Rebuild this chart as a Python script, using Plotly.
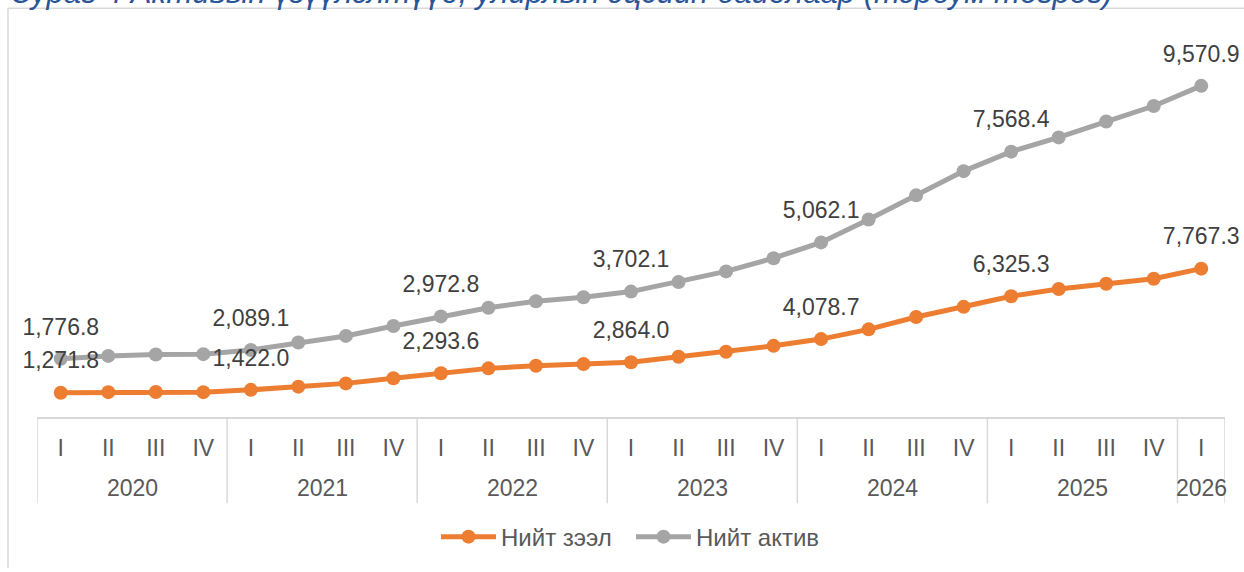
import plotly.graph_objects as go

years = ["2020", "2021", "2022", "2023", "2024", "2025", "2026"]
quarters_per_year = [4, 4, 4, 4, 4, 4, 1]
quarter_names = ["I", "II", "III", "IV"]

loans = [1271.8, 1300.0, 1310.0, 1300.0, 1422.0, 1590.0, 1760.0, 2030.0,
         2293.6, 2546.0, 2687.0, 2770.0, 2864.0, 3154.0, 3414.0, 3726.0,
         4078.7, 4589.0, 5233.0, 5768.0, 6325.3, 6703.0, 6979.0, 7239.0, 7767.3]
assets = [1776.8, 1900.0, 1960.0, 1990.0, 2089.1, 2307.0, 2485.0, 2735.0,
          2972.8, 3170.0, 3377.0, 3502.0, 3702.1, 3913.0, 4209.0, 4588.0,
          5062.1, 5752.0, 6371.0, 7104.0, 7568.4, 7935.0, 8491.0, 9042.0, 9570.9]
labelled = [0, 4, 8, 12, 16, 20, 24]

series_names = ["Нийт зээл", "Нийт актив"]
title_text = "Зураг 4 Активын үзүүлэлтүүд, улирлын эцсийн байдлаар (тэрбум төгрөг)"

colors = ["#ED7D31", "#A5A5A5"]
FONT = "Liberation Sans, Arial, sans-serif"

# category index positions built from the year / quarter structure
quarter_labels = []
for n in quarters_per_year:
    quarter_labels += quarter_names[:n]
idx = list(range(len(quarter_labels)))
bounds = [-0.5]
for n in quarters_per_year:
    bounds.append(bounds[-1] + n)
year_centers = [(bounds[i] + bounds[i + 1]) / 2 for i in range(len(years))]


def labels(vals):
    return [f"{v:,.1f}" if i in labelled else "" for i, v in enumerate(vals)]


fig = go.Figure()
for name, vals, col in zip(series_names, [loans, assets], colors):
    fig.add_trace(go.Scatter(
        x=idx, y=vals, name=name,
        stackgroup="one", fill="none",
        mode="lines+markers",
        line=dict(color=col, width=5),
        marker=dict(color=col, size=14),
        hoverinfo="skip",
    ))

# data labels (placed on the stacked positions)
stacked = [loans, [a + b for a, b in zip(loans, assets)]]
for vals, pos in zip([loans, assets], stacked):
    fig.add_trace(go.Scatter(
        x=idx, y=pos, mode="markers+text", showlegend=False, hoverinfo="skip",
        marker=dict(size=28, opacity=0),
        text=labels(vals), textposition="top center",
        textfont=dict(family=FONT, size=23, color="#404040"),
        cliponaxis=False,
    ))

L, R, T, B = 37, 19, 35, 152
W, H = 1244, 572
pw, ph = W - L - R, H - T - B
AX = H - B  # pixel row of the category axis


def py(p):
    return (AX - p) / ph


def px(p):
    return (p - L) / pw


shapes = [
    dict(type="line", xref="paper", yref="paper", x0=px(8), x1=px(W), y0=py(8), y1=py(8),
         line=dict(color="#D9D9D9", width=1.5)),
    dict(type="line", xref="paper", yref="paper", x0=px(8), x1=px(8), y0=py(8), y1=py(H),
         line=dict(color="#D9D9D9", width=1.5)),
]
for b in bounds:
    shapes.append(dict(type="line", xref="x", yref="paper", x0=b, x1=b, y0=0, y1=py(507),
                       line=dict(color="#D9D9D9", width=1.5)))

annotations = [
    dict(text=title_text, xref="paper", yref="paper", x=px(10), y=py(12),
         xanchor="left", yanchor="bottom", showarrow=False,
         font=dict(family=FONT, size=31, color="#2A5597", style="italic")),
]
for yr, c in zip(years, year_centers):
    annotations.append(dict(text=yr, xref="x", yref="paper", x=c, y=py(492),
                            xanchor="center", yanchor="middle", showarrow=False,
                            font=dict(family=FONT, size=23, color="#595959")))

fig.update_layout(
    width=W, height=H,
    margin=dict(l=L, r=R, t=T, b=B, pad=0),
    paper_bgcolor="white", plot_bgcolor="white",
    font=dict(family=FONT, size=23, color="#595959"),
    showlegend=True,
    legend=dict(orientation="h", x=0.5, xanchor="center", y=py(541), yanchor="middle",
                font=dict(family=FONT, size=24, color="#595959"), itemwidth=55,
                entrywidth=125, traceorder="normal"),
    xaxis=dict(showline=True, linecolor="#D9D9D9", linewidth=1.5,
               tickmode="array", tickvals=idx, ticktext=quarter_labels,
               showgrid=False, zeroline=False, ticks="", ticklabelstandoff=10,
               tickfont=dict(family=FONT, size=23, color="#595959"), range=[-0.5, len(idx) - 0.5]),
    yaxis=dict(range=[0, 20000], visible=False, showgrid=False, zeroline=False),
    shapes=shapes,
    annotations=annotations,
)

fig.write_html("out.html", config={"displayModeBar": False},
               post_script="document.body.style.margin='0';")
